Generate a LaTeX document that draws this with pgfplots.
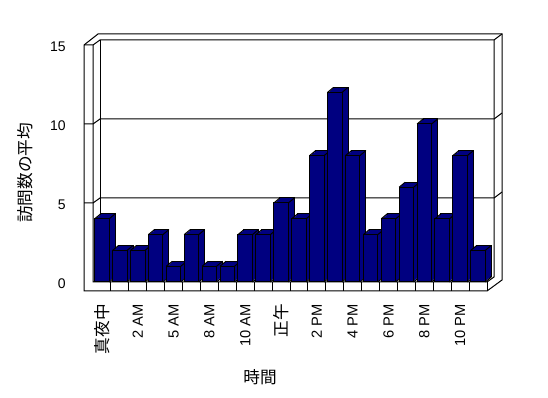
\documentclass[border=0pt]{standalone}
\usepackage{pgfplots}
\pgfplotsset{compat=1.18}
\usepackage{pgfplotstable}
\usepackage{fontspec}
\setmainfont{Liberation Sans}
\newfontfamily\cjk{Noto Sans CJK JP}
\definecolor{barnavy}{RGB}{0,0,128}
\pgfplotstableread{
x val
0 4
1 2
2 2
3 3
4 1
5 3
6 1
7 1
8 3
9 3
10 5
11 4
12 8
13 12
14 8
15 3
16 4
17 6
18 10
19 4
20 8
21 2
}\data
\begin{document}
\begin{tikzpicture}
\begin{scope}[yshift=298.5pt, x=0.75pt, y=-0.75pt, line width=0.75pt]
\path[use as bounding box] (0,0) rectangle (548,398);
\draw (84,291) -- (84,45) -- (98,34) -- (502,34) -- (502,280) -- (487,291) -- cycle;
\draw (84,45) -- (93,45) -- (100,40) -- (494,40) -- (502,34);
\draw (93,45) -- (93,282) -- (487,282) -- (494,277) -- (494,40);
\draw (100,40) -- (100,277);
\draw (487,282) -- (487,291);
\foreach \yf/\yb in {124/119, 203/198} {
  \draw (84,\yf) -- (93,\yf) -- (100,\yb) -- (494,\yb) -- (502,{\yb-6});
}
\foreach \k in {1,...,21} \draw ({93+\k*17.909},282) -- ({93+\k*17.909},291);
\node[font=\cjk\fontsize{12.5}{14}\selectfont] at (260,377) {時間};
\node[font=\cjk\fontsize{12.5}{14}\selectfont, rotate=90] at (25,173) {訪問数の平均};
\end{scope}
\begin{axis}[
  at={(69.75pt,87pt)}, anchor=south west,
  scale only axis, width=295.5pt, height=177.75pt,
  xmin=-0.5, xmax=21.5, ymin=0, ymax=15,
  clip=false,
  axis line style={draw=none}, tick style={draw=none},
  xtick={0,2,...,20},
  xticklabels={{\cjk\fontsize{12.5}{14}\selectfont 真夜中},2 AM,5 AM,8 AM,10 AM,{\cjk\fontsize{12.5}{14}\selectfont 正午},2 PM,4 PM,6 PM,8 PM,10 PM},
  xticklabel style={font=\fontsize{11}{13}\selectfont, inner sep=0pt, yshift=-16.5pt, rotate=90, anchor=east},
  ytick={0,5,10,15},
  yticklabel style={font=\fontsize{10.5}{12}\selectfont, inner sep=0pt, xshift=-20.25pt, yshift=-1.5pt, anchor=east},
  /pgf/number format/assume math mode=true,
]
\addplot[ybar, bar width=0.81, bar shift=0pt, fill=barnavy, draw=black, line width=0.75pt, xshift=4.5pt, yshift=3.75pt] table[x=x,y=val]{\data};
\pgfplotsinvokeforeach{5,4,3,2,1}{
  \addplot[ybar, bar width=0.81, bar shift=0pt, fill=barnavy, draw=none, xshift=#1*0.75pt, yshift=#1*0.625pt] table[x=x,y=val]{\data};
}
\addplot[quiver={u=0.335,v=0.316}, black, line width=0.75pt] table[x expr=\thisrow{x}-0.405, y=val]{\data};
\addplot[quiver={u=0.335,v=0.316}, black, line width=0.75pt] table[x expr=\thisrow{x}+0.405, y=val]{\data};
\addplot[quiver={u=0.335,v=0.316}, black, line width=0.75pt] table[x expr=\thisrow{x}+0.405, y expr=0]{\data};
\addplot[ybar, bar width=0.81, bar shift=0pt, fill=barnavy, draw=black, line width=0.75pt] table[x=x,y=val]{\data};
\end{axis}
\end{tikzpicture}
\end{document}
